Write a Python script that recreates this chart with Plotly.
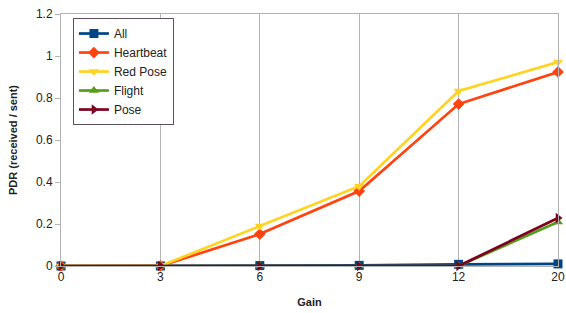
import plotly.graph_objects as go

gain = ["0", "3", "6", "9", "12", "20"]
all_pdr = [0, 0, 0.002, 0.003, 0.008, 0.01]
heartbeat = [0, 0, 0.152, 0.357, 0.771, 0.924]
red_pose = [0, 0, 0.19, 0.38, 0.833, 0.971]
flight = [0, 0, 0, 0, 0, 0.21]
pose = [0, 0, 0, 0, 0, 0.229]

series = [
    ("All", all_pdr, "#004586", "square"),
    ("Heartbeat", heartbeat, "#ff420e", "diamond"),
    ("Red Pose", red_pose, "#ffd320", "triangle-down"),
    ("Flight", flight, "#579d1c", "triangle-up"),
    ("Pose", pose, "#7e0021", "triangle-right"),
]

fig = go.Figure()
for name, vals, color, sym in series:
    fig.add_trace(go.Scatter(
        x=gain, y=vals, name=name, mode="lines+markers",
        line=dict(color=color, width=2.7),
        marker=dict(symbol=sym, size=9, color=color),
        cliponaxis=False,
    ))

fig.update_layout(
    width=566, height=313,
    margin=dict(l=61, r=8, t=14, b=47, autoexpand=False),
    paper_bgcolor="white", plot_bgcolor="white",
    font=dict(family="Liberation Sans", size=12, color="#222"),
    showlegend=True,
    legend=dict(
        x=0.024, y=0.984, xanchor="left", yanchor="top",
        bordercolor="#5f4f5f", borderwidth=1, bgcolor="white",
        font=dict(size=12), tracegroupgap=0, itemwidth=30,
    ),
    xaxis=dict(
        type="category", range=[0, 5], automargin=False,
        showgrid=True, gridcolor="#b3b3b3", gridwidth=1,
        showline=True, linecolor="#b3b3b3", mirror=True,
        ticks="", zeroline=False, ticklabeloverflow="allow",
        title=dict(text="<b>Gain</b>", font=dict(size=11), standoff=14),
    ),
    yaxis=dict(
        range=[0, 1.2], dtick=0.2, tickformat="~g", automargin=False,
        showgrid=False,
        showline=True, linecolor="#b3b3b3", mirror=True,
        ticks="outside", ticklen=5, tickcolor="#b3b3b3",
        zeroline=False, ticklabeloverflow="allow",
        title=dict(text="<b>PDR (received / sent)</b>", font=dict(size=11), standoff=16),
    ),
)

fig.write_html(
    "out.html",
    config={"displayModeBar": False},
    post_script="document.body.style.margin='0';document.body.style.overflow='hidden';",
)
